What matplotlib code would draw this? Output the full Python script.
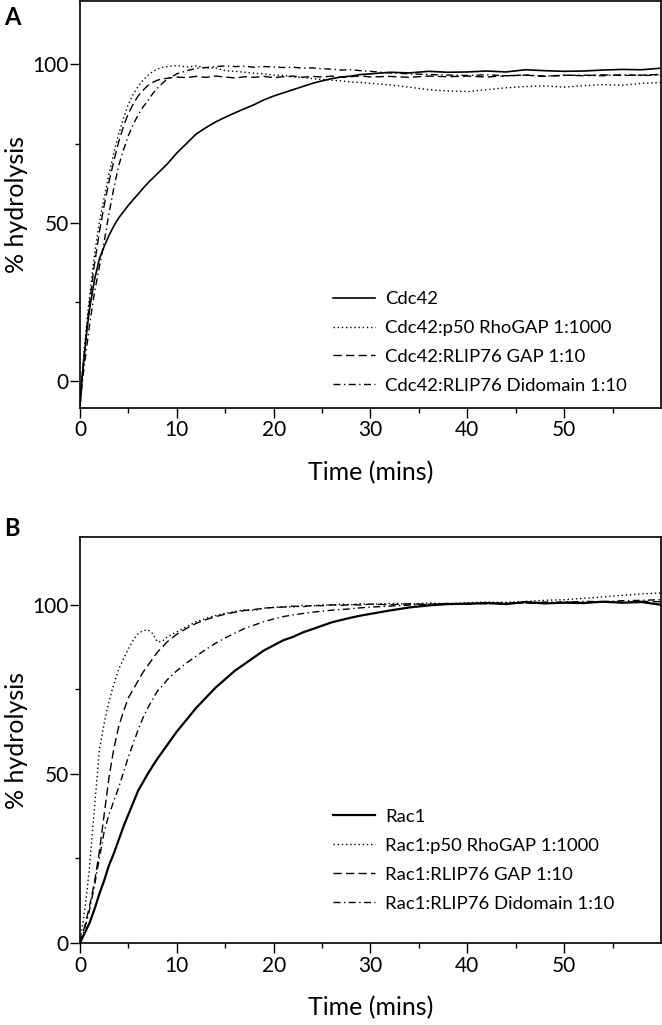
import matplotlib
matplotlib.use("Agg")
import matplotlib.pyplot as plt

plt.rcParams['font.family'] = ['Lato', 'DejaVu Sans']

# time grid (mins), shared by every trace
t = [0, 0.25, 0.5, 0.75, 1, 1.5, 2, 2.5, 3, 3.5, 4, 4.5, 5, 5.5, 6, 6.5, 7, 7.5, 8, 8.5, 9,
     10, 11, 12, 13, 14, 15, 16, 17, 18, 19, 20, 21, 22, 23, 24, 25, 26, 27, 28, 29, 30,
     32, 34, 36, 38, 40, 42, 44, 46, 48, 50, 52, 54, 56, 58, 60]

# panel A - Cdc42
cdc42 = [-8, 2, 10, 17, 23, 32, 38.5, 42.5, 46, 49, 51.5, 53.5, 55.5, 57.3, 59, 60.8, 62.5, 64, 65.5, 67, 68.5,
         72, 75, 78, 80, 81.8, 83.3, 84.7, 86, 87.3, 88.8, 90, 91, 92, 93, 94, 94.8, 95.5, 96, 96.3, 96.8, 97,
         97.5, 97.3, 97.8, 97.5, 97.6, 97.9, 97.6, 98.3, 98, 97.8, 97.9, 98.2, 98.4, 98.3, 98.8]
cdc42_p50 = [-8, 3, 12, 20, 27, 40, 50, 58, 65.5, 72, 78, 83, 87.5, 90.5, 93, 95, 96.5, 97.7, 98.5, 99, 99.3,
             99.6, 99.2, 99.5, 98.8, 98.9, 98.0, 97.8, 97.5, 97.2, 97.0, 96.6, 96.5, 96.0, 95.9, 95.5, 95.2, 95.0, 94.8, 94.4, 94.3, 94.0,
             93.5, 92.8, 92.0, 91.6, 91.4, 92.0, 92.6, 93.0, 93.2, 92.8, 93.3, 93.6, 93.4, 94.0, 94.3]
cdc42_gap = [-8, 2, 10, 18, 25, 37, 47, 55.5, 63, 69.5, 75.5, 80.5, 84.5, 87.5, 90, 91.8, 93.3, 94.3, 95, 95.4, 95.6,
             96, 95.8, 96.2, 95.9, 96.3, 96.0, 95.7, 96.1, 95.9, 96.2, 95.8, 96.1, 96.3, 95.9, 96.2, 96.0, 96.3, 95.9, 96.1, 96.4, 96.0,
             96.2, 95.9, 96.3, 96.1, 96.3, 96.0, 96.4, 96.6, 96.2, 96.6, 96.4, 96.7, 96.5, 96.6, 96.8]
cdc42_di = [-8, 0, 6, 12, 18, 28, 36, 44, 53, 61, 68, 73, 77.5, 81, 84, 86.5, 88.5, 90.7, 92.5, 94, 95.3,
            97, 98, 98.7, 99, 99.3, 99.5, 99.3, 99.4, 99.1, 99.3, 99.2, 99.0, 99.1, 98.8, 98.9, 98.6, 98.5, 98.2, 98.3, 98.0, 97.8,
            97.3, 97.0, 96.8, 96.6, 96.5, 96.7, 96.4, 96.6, 96.3, 96.5, 96.6, 96.4, 96.7, 96.5, 96.6]

# panel B - Rac1
rac1 = [0, 1.5, 3, 4.5, 6, 10, 14.5, 18.5, 23, 26.5, 30.5, 34.5, 38, 41.5, 45, 47.5, 50, 52.3, 54.5, 56.5, 58.5,
        62.5, 66, 69.5, 72.5, 75.5, 78, 80.5, 82.5, 84.5, 86.5, 88, 89.5, 90.5, 91.8, 92.8, 93.8, 94.8, 95.5, 96.2, 96.8, 97.3,
        98.3, 99.2, 99.8, 100.2, 100.3, 100.5, 100.2, 100.8, 100.4, 100.6, 100.5, 100.9, 100.6, 100.8, 100.0]
rac1_p50 = [0, 5, 10, 16, 23, 40, 57, 65, 71.5, 76.5, 81, 84, 87, 89.5, 91.5, 92.3, 92.6, 91.5, 89, 89.2, 90.5,
            92, 93.5, 95, 96, 96.8, 97.5, 98, 98.5, 98.3, 99, 99.2, 99.5, 99.3, 99.8, 99.6, 100, 99.8, 100.2, 100, 100.3, 100.1,
            100.4, 100.2, 100.5, 100.3, 100.6, 100.8, 100.7, 101, 101.3, 101.5, 101.9, 102.3, 102.8, 103.2, 103.5]
rac1_gap = [0, 2.5, 5, 8, 11, 18, 27, 38, 49, 57.5, 64, 68.5, 72.5, 75, 77.5, 80, 82, 84, 86, 87.5, 89,
            91.3, 93, 94.5, 95.6, 96.5, 97.2, 97.8, 98.3, 98.6, 99, 99.2, 99.3, 99.6, 99.4, 99.8, 99.7, 100, 99.8, 100.1, 99.9, 100.2,
            100.0, 100.3, 100.1, 100.4, 100.2, 100.5, 100.3, 100.6, 100.4, 100.8, 100.6, 100.9, 100.7, 101, 100.9]
rac1_di = [0, 2, 4.5, 7, 10, 17, 25, 33, 38, 42, 46, 50.5, 55, 59, 63, 66.5, 69.5, 72, 74.5, 76, 77.8,
           80.5, 82.8, 84.8, 86.8, 88.6, 90.2, 91.6, 93, 94, 95, 95.8, 96.5, 97, 97.4, 97.8, 98.1, 98.4, 98.6, 98.8, 99.1, 99.3,
           99.6, 99.9, 100.1, 100.2, 100.4, 100.3, 100.6, 100.5, 100.8, 100.7, 101, 100.9, 101.2, 101.3, 101.5]

labels_a = ['Cdc42', 'Cdc42:p50 RhoGAP 1:1000', 'Cdc42:RLIP76 GAP 1:10', 'Cdc42:RLIP76 Didomain 1:10']
labels_b = ['Rac1', 'Rac1:p50 RhoGAP 1:1000', 'Rac1:RLIP76 GAP 1:10', 'Rac1:RLIP76 Didomain 1:10']

styles = ['-', (0, (1, 2)), (0, (6, 3)), (0, (5, 2.5, 1, 2.5))]

fig = plt.figure(figsize=(6.62, 10.25), dpi=100)
ax_a = fig.add_axes([0.1208, 0.602, 0.8777, 0.397])
ax_b = fig.add_axes([0.1208, 0.080, 0.8777, 0.396])


def draw(ax, series, labels, ylim, lw_solid, legend_top):
    for y, lab, ls in zip(series, labels, styles):
        lw = lw_solid if ls == '-' else 1.0
        ax.plot(t, y, color='black', linestyle=ls, linewidth=lw, label=lab)
    ax.set_xlim(0, 60)
    ax.set_ylim(*ylim)
    ax.set_xticks([0, 10, 20, 30, 40, 50])
    ax.set_xticks([5, 15, 25, 35, 45, 55], minor=True)
    ax.set_yticks([0, 50, 100])
    ax.set_yticks([25, 75], minor=True)
    ax.tick_params(which='major', direction='out', length=7, width=1, labelsize=15, pad=2)
    ax.tick_params(which='minor', direction='out', length=3.5, width=1)
    ax.tick_params(axis='y', pad=1)
    for s in ax.spines.values():
        s.set_linewidth(1.2)
    ax.set_xlabel('Time (mins)', fontsize=18, labelpad=15)
    ax.set_ylabel('% hydrolysis', fontsize=18)
    ax.yaxis.set_label_coords(-0.09, 0.5)
    ax.legend(loc='upper left', bbox_to_anchor=(0.42, legend_top), frameon=False,
              fontsize=13.3, handlelength=2.25, handletextpad=0.56, labelspacing=0.7, borderpad=0)


draw(ax_a, [cdc42, cdc42_p50, cdc42_gap, cdc42_di], labels_a, (-8.5, 120), 1.2, 0.31)
draw(ax_b, [rac1, rac1_p50, rac1_gap, rac1_di], labels_b, (0, 120), 1.6, 0.353)

fig.text(0.006, 0.994, 'A', fontsize=17, fontweight='bold', va='top')
fig.text(0.006, 0.496, 'B', fontsize=17, fontweight='bold', va='top')

fig.savefig('out.png', dpi=100)
